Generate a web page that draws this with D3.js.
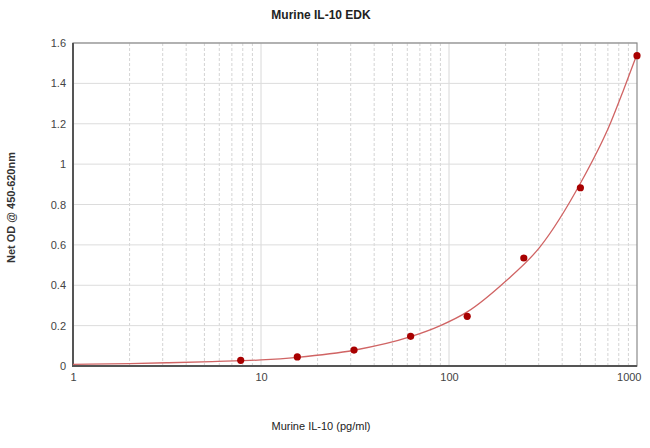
<!DOCTYPE html>
<html lang="en">
<head>
<meta charset="utf-8">
<title>Murine IL-10 EDK</title>
<script src="https://d3js.org/d3.v7.min.js"></script>
<style type="text/css">
  body { margin: 0; background: white; }
  .title { font-family: Arial, "Liberation Sans", sans-serif; font-size: 12px; font-weight: bold; fill: #222; }
  .axisLabel { font-family: Arial, "Liberation Sans", sans-serif; font-size: 11px; font-weight: bold; fill: #333; }
  .tick text { font-family: Arial, "Liberation Sans", sans-serif; font-size: 11px; fill: #444; }
</style>
</head>
<body>
<svg></svg>
<script type="text/javascript">

// standards (pg/ml) and their net OD
const concentrations = [7.8, 15.6, 31.25, 62.5, 125, 250, 500, 1000];
const odValues = [0.028, 0.045, 0.079, 0.147, 0.246, 0.535, 0.883, 1.537];

// fitted curve
const curveConc = [1, 2, 3.16, 5.5, 10, 15.6, 31.25, 62.5, 90, 125, 200, 305, 500, 720, 850, 1000];
const curveOD = [0.008, 0.012, 0.016, 0.022, 0.030, 0.043, 0.078, 0.145, 0.200, 0.268, 0.42, 0.59, 0.905, 1.20, 1.37, 1.545];

const yTicks = [0, 0.2, 0.4, 0.6, 0.8, 1, 1.2, 1.4, 1.6];
const xTicks = [1, 10, 100, 1000];

const width = 650, height = 448;
const margin = {top: 43, right: 13, bottom: 82, left: 73};

const svg = d3.select("svg")
  .attr("width", width)
  .attr("height", height);

const x = d3.scaleLog()
  .domain([1, 1000])
  .range([margin.left, width - margin.right]);

const y = d3.scaleLinear()
  .domain([0, 1.6])
  .range([height - margin.bottom, margin.top]);

// minor vertical grid (2..9 in every decade)
const minor = [];
[1, 10, 100].forEach(d => {
  for (let k = 2; k <= 9; k++) minor.push(d * k);
});

svg.append("g")
  .selectAll("line")
  .data(minor)
  .join("line")
  .attr("x1", d => x(d)).attr("x2", d => x(d))
  .attr("y1", y(1.6)).attr("y2", y(0))
  .attr("stroke", "#d4d4d4")
  .attr("stroke-dasharray", "3,2");

// major vertical grid
svg.append("g")
  .selectAll("line")
  .data([10, 100])
  .join("line")
  .attr("x1", d => x(d)).attr("x2", d => x(d))
  .attr("y1", y(1.6)).attr("y2", y(0))
  .attr("stroke", "#d8d8d8");

// horizontal grid
svg.append("g")
  .selectAll("line")
  .data(yTicks.slice(1))
  .join("line")
  .attr("x1", x(1)).attr("x2", x(1000))
  .attr("y1", d => y(d)).attr("y2", d => y(d))
  .attr("stroke", "#dcdcdc");

// frame: top/right light, left/bottom darker
svg.append("rect")
  .attr("x", x(1)).attr("y", y(1.6))
  .attr("width", x(1000) - x(1))
  .attr("height", y(0) - y(1.6))
  .attr("fill", "none")
  .attr("stroke", "#8a8a8a")
  .attr("stroke-width", 1.2);

svg.append("path")
  .attr("d", `M${x(1)},${y(1.6)}V${y(0)}H${x(1000)}`)
  .attr("fill", "none")
  .attr("stroke", "#555")
  .attr("stroke-width", 2);

// axes
const yAxis = svg.append("g")
  .attr("transform", `translate(${margin.left - 4},0)`)
  .call(d3.axisLeft(y).tickValues(yTicks).tickSize(0).tickFormat(d3.format("~g")));
yAxis.select(".domain").remove();

const xAxis = svg.append("g")
  .attr("transform", `translate(0,${height - margin.bottom + 4})`)
  .call(d3.axisBottom(x).tickValues(xTicks).tickSize(0).tickFormat(d3.format("d")));
xAxis.select(".domain").remove();
xAxis.selectAll(".tick text")
  .filter(d => d === 1000)
  .attr("text-anchor", "end")
  .attr("dx", "4");

// fitted curve
const line = d3.line()
  .x((d, i) => x(curveConc[i]))
  .y(d => y(d))
  .curve(d3.curveMonotoneX);

svg.append("path")
  .datum(curveOD)
  .attr("d", line)
  .attr("fill", "none")
  .attr("stroke", "#d06464")
  .attr("stroke-width", 1.3);

// standards
svg.append("g")
  .selectAll("circle")
  .data(odValues)
  .join("circle")
  .attr("cx", (d, i) => x(concentrations[i]))
  .attr("cy", d => y(d))
  .attr("r", 3.6)
  .attr("fill", "#a80000");

// labels
svg.append("text")
  .attr("class", "title")
  .attr("x", 321)
  .attr("y", 19)
  .attr("text-anchor", "middle")
  .text("Murine IL-10 EDK");

svg.append("text")
  .attr("class", "axisLabel")
  .attr("x", 321)
  .attr("y", 430)
  .attr("text-anchor", "middle")
  .style("font-weight", "normal")
  .style("fill", "#222")
  .text("Murine IL-10 (pg/ml)");

svg.append("text")
  .attr("class", "axisLabel")
  .attr("transform", `translate(15,${(y(0) + y(1.6)) / 2 + 3}) rotate(-90)`)
  .attr("text-anchor", "middle")
  .text("Net OD @ 450-620nm");

</script>
</body>
</html>
